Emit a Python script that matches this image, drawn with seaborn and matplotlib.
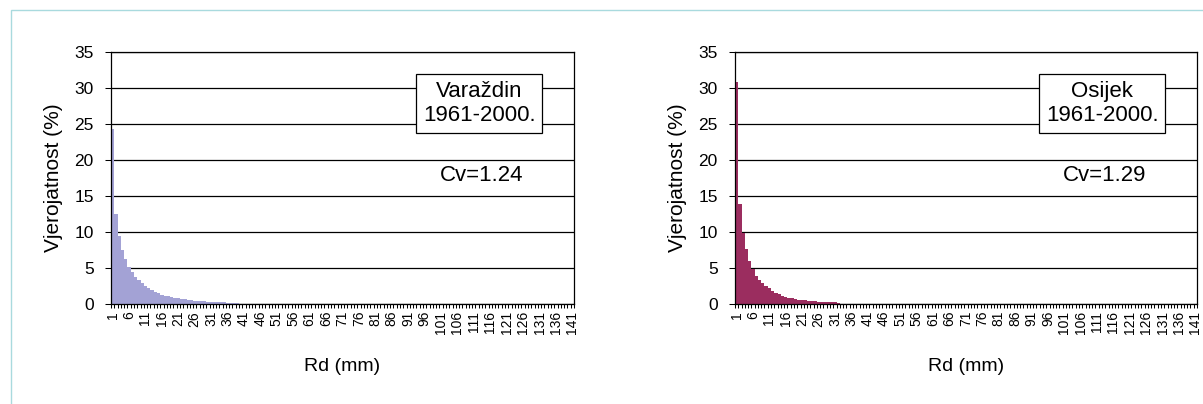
import matplotlib
matplotlib.use("Agg")
import matplotlib.pyplot as plt
import matplotlib.patches as mpatches
from matplotlib.ticker import FixedLocator
import numpy as np
import pandas as pd
import seaborn as sns

# ---- data -------------------------------------------------------------
categories = list(range(1, 142))  # Rd (mm) classes 1..141

varazdin_head = [24.3, 12.5, 9.4, 7.5, 6.2, 5.2, 4.4, 3.8, 3.3, 2.9,
                 2.5, 2.2, 1.95, 1.7, 1.5, 1.3, 1.15, 1.05, 0.95, 0.85,
                 0.78, 0.7, 0.64, 0.58, 0.52, 0.47, 0.43, 0.4, 0.37, 0.34,
                 0.31, 0.28, 0.26, 0.24, 0.22, 0.2, 0.18, 0.16, 0.12]
osijek_head = [30.9, 13.9, 9.9, 7.6, 6.0, 4.8, 3.9, 3.3, 2.9, 2.5,
               2.2, 1.85, 1.57, 1.35, 1.15, 1.0, 0.9, 0.8, 0.7, 0.62,
               0.55, 0.5, 0.45, 0.4, 0.36, 0.33, 0.3, 0.28, 0.26, 0.24,
               0.22, 0.2]
varazdin = varazdin_head + [0.0] * (len(categories) - len(varazdin_head))
osijek = osijek_head + [0.0] * (len(categories) - len(osijek_head))

label_step = 5
y_ticks = [0, 5, 10, 15, 20, 25, 30, 35]
panels = [
    {"name": "Varaždin", "period": "1961-2000.", "cv": "Cv=1.24",
     "values": varazdin, "color": "#a3a2d5"},
    {"name": "Osijek", "period": "1961-2000.", "cv": "Cv=1.29",
     "values": osijek, "color": "#9b2d5f"},
]

# ---- figure -----------------------------------------------------------
plt.rcParams["font.family"] = ["Liberation Sans", "DejaVu Sans"]
fig = plt.figure(figsize=(12.03, 4.04), dpi=100)
W, H = 1203, 404

# outer light border
fig.add_artist(mpatches.Rectangle((11 / W, -0.5), 2.0, (H - 10) / H + 0.5,
                                  transform=fig.transFigure, fill=False,
                                  edgecolor="#a9dade", linewidth=1.0))

axes_px = [(111, 574), (735, 1197)]
top_px, bot_px = 52, 304

for p, (x0, x1) in zip(panels, axes_px):
    ax = fig.add_axes([x0 / W, (H - bot_px) / H, (x1 - x0) / W,
                       (bot_px - top_px) / H])
    df = pd.DataFrame({"Rd": [str(c) for c in categories],
                       "val": p["values"]})
    sns.barplot(data=df, x="Rd", y="val", order=df["Rd"], color=p["color"],
                saturation=1, width=1.0, linewidth=0, ax=ax, zorder=2)
    n = len(categories)
    ax.set_xlim(-0.5, n - 0.5)
    ax.set_ylim(0, 35)
    ax.set_yticks(y_ticks)
    ax.set_yticklabels([str(t) for t in y_ticks], fontsize=12.5)
    major = list(range(0, n, label_step))
    ax.xaxis.set_major_locator(FixedLocator(major))
    ax.set_xticklabels([str(categories[i]) for i in major], rotation=90,
                       fontsize=10)
    ax.xaxis.set_minor_locator(FixedLocator(np.arange(-0.5, n, 1.0)))
    ax.tick_params(axis="x", which="major", length=0, pad=5)
    ax.tick_params(axis="x", which="minor", length=3, width=0.75,
                   color="black")
    ax.tick_params(axis="y", which="major", length=4.5, width=0.75,
                   pad=8, color="black")
    ax.grid(axis="y", color="black", linewidth=0.9, zorder=1)
    ax.set_axisbelow(True)
    for s in ax.spines.values():
        s.set_color("black")
        s.set_linewidth(0.9)
    ax.set_facecolor("white")
    ax.set_ylabel("Vjerojatnost (%)", fontsize=15)
    ax.yaxis.set_label_coords(-0.104, 0.502)
    ax.set_xlabel("Rd (mm)", fontsize=14)
    ax.xaxis.set_label_coords(0.5, -0.215)

    ax.text(0.795, 0.795, p["name"] + "\n" + p["period"],
            transform=ax.transAxes, ha="center", va="center", fontsize=16,
            linespacing=1.2, zorder=5,
            bbox=dict(boxstyle="square,pad=0.3", facecolor="white",
                      edgecolor="black", linewidth=0.9))
    ax.text(0.8, 0.51, p["cv"], transform=ax.transAxes, ha="center",
            va="center", fontsize=16, zorder=5)

fig.savefig("out.png", dpi=100)
